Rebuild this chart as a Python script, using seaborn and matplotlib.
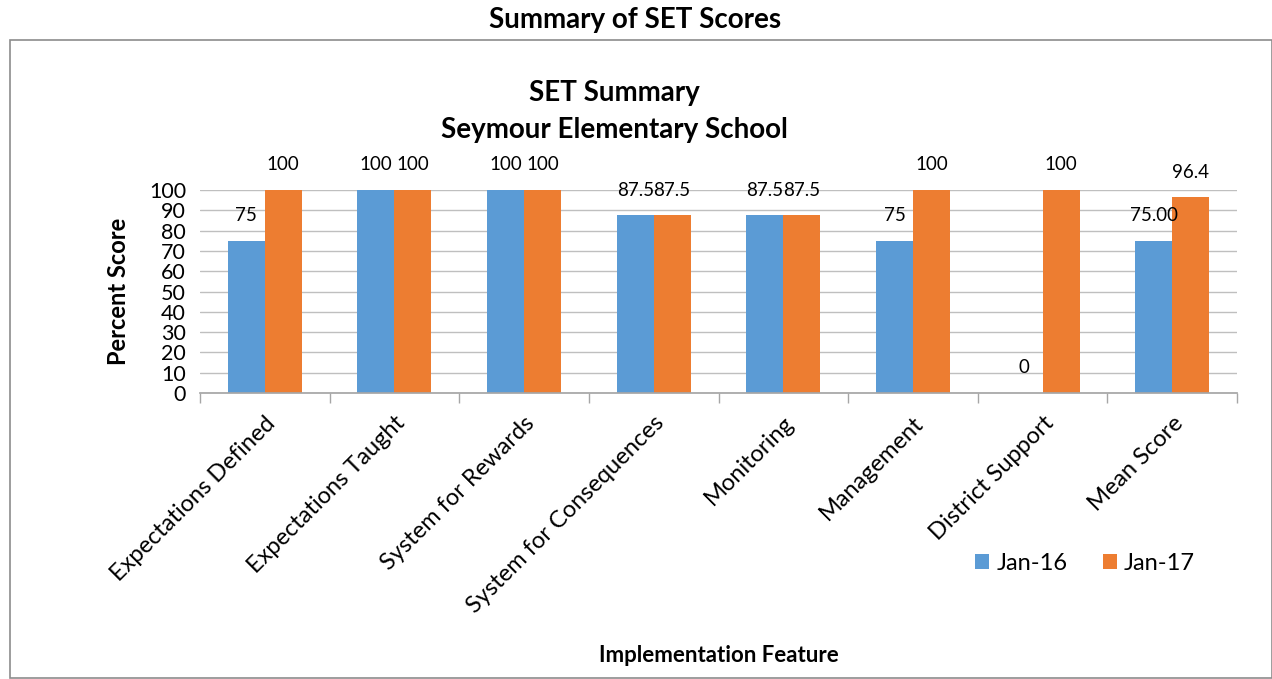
import matplotlib
matplotlib.use("Agg")
import matplotlib.pyplot as plt
import seaborn as sns
import pandas as pd
from matplotlib.patches import Rectangle, Patch

categories = ["Expectations Defined", "Expectations Taught", "System for Rewards",
              "System for Consequences", "Monitoring", "Management",
              "District Support", "Mean Score"]
jan16 = [75, 100, 100, 87.5, 87.5, 75, 0, 75.00]
jan17 = [100, 100, 100, 87.5, 87.5, 100, 100, 96.4]
labels16 = ["75", "100", "100", "87.5", "87.5", "75", "0", "75.00"]
labels17 = ["100", "100", "100", "87.5", "87.5", "100", "100", "96.4"]
series = ["Jan-16", "Jan-17"]
colors = ["#5B9BD5", "#ED7D31"]
yticks = list(range(0, 101, 10))

df = pd.DataFrame({
    "feature": categories * 2,
    "score": jan16 + jan17,
    "date": [series[0]] * len(categories) + [series[1]] * len(categories),
})

sns.set_theme(style="white")
plt.rcParams['font.family'] = ['Lato', 'DejaVu Sans']
plt.rcParams['text.color'] = 'black'
plt.rcParams['xtick.color'] = 'black'
plt.rcParams['ytick.color'] = 'black'
plt.rcParams['axes.labelcolor'] = 'black'

fig = plt.figure(figsize=(12.72, 6.79), dpi=100)
ax = fig.add_axes([200/1272, 1-393/679, 1037/1272, 203/679])

sns.barplot(data=df, x="feature", y="score", hue="date", palette=colors,
            width=0.57, saturation=1, ax=ax, legend=False, errorbar=None,
            linewidth=0)

for cont, labs in zip(ax.containers, [labels16, labels17]):
    ax.bar_label(cont, labels=labs, padding=12, fontsize=13.5, color="#000000")

ax.set_ylim(0, 100)
ax.set_xlim(-0.5, len(categories) - 0.5)
ax.set_yticks(yticks)
ax.tick_params(axis="y", labelsize=15.5, length=0, pad=10)
ax.yaxis.grid(True, color="#BFBFBF", linewidth=1)
ax.set_axisbelow(True)
for s in ["top", "right", "left"]:
    ax.spines[s].set_visible(False)
ax.spines["bottom"].set_color("#A6A6A6")

ax.set_xticks(range(len(categories)))
ax.set_xticklabels(categories, rotation=45, ha="right", rotation_mode="anchor", fontsize=17)
ax.tick_params(axis="x", which="major", length=0, pad=14)
ax.set_xticks([i - 0.5 for i in range(len(categories) + 1)], minor=True)
ax.tick_params(axis="x", which="minor", length=7, color="#A6A6A6", width=1, bottom=True)

ax.set_xlabel("")
ax.set_ylabel("Percent Score", fontsize=17, fontweight="bold", labelpad=14)

fig.text(635/1272, 1-20/679, "Summary of SET Scores", ha="center", va="center",
         fontsize=20, fontweight="bold")
fig.patches.append(Rectangle((10/1272, 1/679), 1262/1272, 638/679, transform=fig.transFigure,
                             fill=False, edgecolor="#8C8C8C", linewidth=1.2))
fig.text(614/1272, 1-93/679, "SET Summary", ha="center", va="center",
         fontsize=20, fontweight="bold")
fig.text(614/1272, 1-130/679, "Seymour Elementary School", ha="center", va="center",
         fontsize=20, fontweight="bold")
fig.text(719/1272, 1-655/679, "Implementation Feature", ha="center", va="center",
         fontsize=16, fontweight="bold")

handles = [Patch(facecolor=c, edgecolor="none") for c in colors]
fig.legend(handles, series, loc="center", bbox_to_anchor=(1085/1272, 1-563/679),
           ncol=2, frameon=False, fontsize=17, handlelength=0.6, handleheight=0.6,
           handletextpad=0.3, columnspacing=1.5)

fig.savefig("out.png", dpi=100)
